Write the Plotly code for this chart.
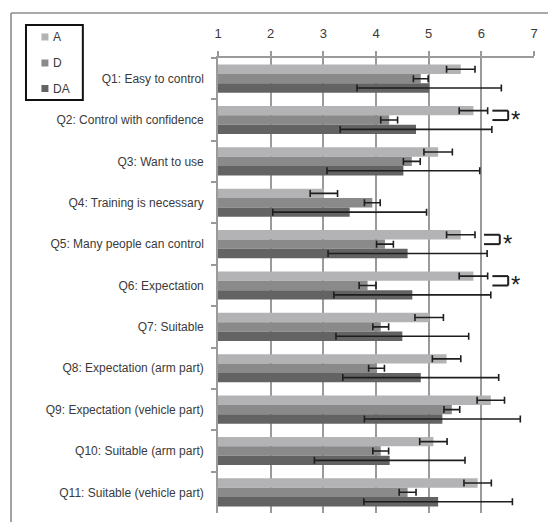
import plotly.graph_objects as go

questions = [
    "Q1: Easy to control",
    "Q2: Control with confidence",
    "Q3: Want to use",
    "Q4: Training is necessary",
    "Q5: Many people can control",
    "Q6: Expectation",
    "Q7: Suitable",
    "Q8: Expectation (arm part)",
    "Q9: Expectation (vehicle part)",
    "Q10: Suitable (arm part)",
    "Q11: Suitable (vehicle part)",
]

mean_A = [5.61, 5.85, 5.18, 3.01, 5.61, 5.85, 5.01, 5.34, 6.18, 5.09, 5.93]
err_A = [0.27, 0.27, 0.27, 0.26, 0.27, 0.27, 0.27, 0.27, 0.26, 0.26, 0.26]

mean_D = [4.85, 4.25, 4.68, 3.93, 4.17, 3.84, 4.09, 4.01, 5.44, 4.09, 4.60]
err_D = [0.14, 0.16, 0.16, 0.15, 0.16, 0.16, 0.15, 0.15, 0.15, 0.15, 0.16]

mean_DA = [5.01, 4.76, 4.52, 3.50, 4.60, 4.69, 4.50, 4.85, 5.26, 4.26, 5.18]
err_DA = [1.37, 1.44, 1.45, 1.46, 1.51, 1.49, 1.26, 1.48, 1.48, 1.43, 1.41]

series_names = ["A", "D", "DA"]
series_colors = ["#b3b3b5", "#8a8a8a", "#636363"]

# significance brackets (A vs D)
sig_questions = ["Q2: Control with confidence", "Q5: Many people can control", "Q6: Expectation"]
sig_x_start = [6.21, 6.05, 6.21]
sig_label = "*"

W, H = 556, 522
OFF = 8  # page body margin
L = 217.5 - OFF
plot_right = 534.3 - OFF
T = 58 - OFF
plot_bottom = 512.7 - OFF
R = W - plot_right
B = H - plot_bottom
pw = plot_right - L
ph = plot_bottom - T

def px_x(px):
    return (px - OFF - L) / pw

def px_y(py):
    return (plot_bottom - (py - OFF)) / ph

fig = go.Figure()
means = [mean_A, mean_D, mean_DA]
errs = [err_A, err_D, err_DA]
for name, color, m, e in zip(series_names, series_colors, means, errs):
    fig.add_trace(go.Bar(
        y=questions, x=m, orientation="h", name=name,
        marker=dict(color=color, line=dict(width=0)),
        error_x=dict(type="data", array=e, color="#1e1e1e", thickness=1.6, width=3.5),
        showlegend=False,
    ))

bargap = 0.32
w = (1 - bargap) / 3
shapes = []
annotations = []
for q, xs in zip(sig_questions, sig_x_start):
    i = questions.index(q)
    ya = i - w
    yd = i
    xe = xs + 0.30
    lc = dict(color="#1e1e1e", width=2)
    shapes.append(dict(type="line", xref="x", yref="y", x0=xs, x1=xe, y0=ya, y1=ya, line=lc))
    shapes.append(dict(type="line", xref="x", yref="y", x0=xe, x1=xe, y0=ya, y1=yd, line=lc))
    shapes.append(dict(type="line", xref="x", yref="y", x0=xs, x1=xe, y0=yd, y1=yd, line=lc))
    annotations.append(dict(x=xe + 0.14, y=(ya + yd) / 2, xref="x", yref="y", text=sig_label,
                            showarrow=False, font=dict(size=24, color="#1e1e1e", family="Liberation Sans"),
                            xanchor="center", yanchor="middle", yshift=-4))

# outer frame (top and left edges; the rest falls outside the visible page)
frame_line = dict(color="#8c8c8c", width=1.6)
shapes.append(dict(type="line", xref="paper", yref="paper",
                   x0=px_x(10), x1=px_x(600), y0=px_y(13), y1=px_y(13), line=frame_line, layer="below"))
shapes.append(dict(type="line", xref="paper", yref="paper",
                   x0=px_x(10), x1=px_x(10), y0=px_y(13), y1=px_y(600), line=frame_line, layer="below"))

# legend box (drawn manually)
shapes.append(dict(type="rect", xref="paper", yref="paper",
                   x0=px_x(25), x1=px_x(82), y0=px_y(100), y1=px_y(25),
                   line=dict(color="#111111", width=2), fillcolor="white", layer="above"))
leg_y = [37, 63, 88.5]
for name, color, yy in zip(series_names, series_colors, leg_y):
    shapes.append(dict(type="rect", xref="paper", yref="paper",
                       x0=px_x(40.5), x1=px_x(47.5), y0=px_y(yy + 3.5), y1=px_y(yy - 3.5),
                       line=dict(width=0), fillcolor=color, layer="above"))
    annotations.append(dict(x=px_x(50.5), y=px_y(yy), xref="paper", yref="paper", text=name,
                            showarrow=False, xanchor="left", yanchor="middle",
                            font=dict(size=12, color="#3a3a3a")))

grid_c = "#9a9a9a"
fig.update_layout(
    width=W, height=H,
    margin=dict(l=L, r=R, t=T, b=B, pad=0),
    paper_bgcolor="white", plot_bgcolor="white",
    barmode="group", bargap=bargap, bargroupgap=0,
    font=dict(family="Liberation Sans", size=12, color="#3a3a3a"),
    showlegend=False,
    xaxis=dict(
        side="top", range=[1, 7], dtick=1, tick0=1,
        showgrid=True, gridcolor=grid_c, gridwidth=1.6,
        showline=True, linecolor=grid_c, linewidth=1.6,
        ticks="outside", ticklen=5, tickcolor=grid_c, tickwidth=1.6,
        zeroline=False, ticklabelstandoff=8,
        tickfont=dict(size=13, color="#3a3a3a"),
    ),
    yaxis=dict(
        autorange="reversed", type="category",
        showgrid=False, showline=True, linecolor=grid_c, linewidth=1.6,
        ticks="outside", tickson="boundaries", ticklen=5, tickcolor=grid_c, tickwidth=1.6,
        ticklabelstandoff=10,
        tickfont=dict(size=12, color="#3a3a3a"),
    ),
    shapes=shapes,
    annotations=annotations,
)

fig.write_html(
    "out.html",
    post_script="document.documentElement.style.overflow='hidden';document.body.style.overflow='hidden';",
)
